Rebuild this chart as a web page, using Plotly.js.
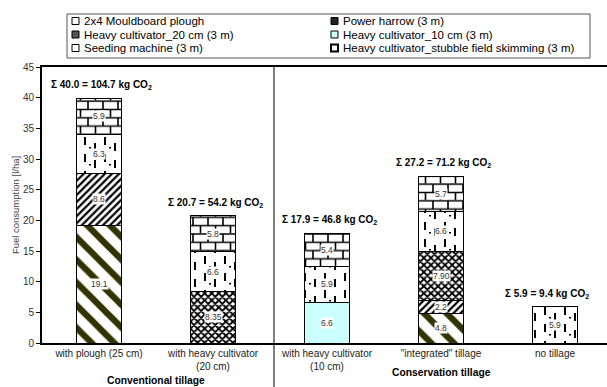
<!DOCTYPE html>
<html>
<head>
<meta charset="utf-8">
<script src="https://cdn.plot.ly/plotly-3.0.1.min.js"></script>
<style>
html,body{margin:0;padding:0;overflow:hidden;background:#fff;}
#chart{width:615px;height:387px;}
</style>
</head>
<body>
<div id="chart"></div>
<script>
// ---- data ----
var categories = ["with plough (25 cm)", "with heavy cultivator<br>(20 cm)", "with heavy cultivator<br>(10 cm)", "\"integrated\" tillage", "no tillage"];
var seriesNames = ["2x4 Mouldboard plough", "Power harrow (3 m)", "Heavy cultivator_20 cm (3 m)", "Heavy cultivator_10 cm (3 m)", "Seeding machine (3 m)", "Heavy cultivator_stubble field skimming (3 m)"];
var plough      = [19.1, null, null, 4.8, null];
var powerHarrow = [8.6, null, null, 2.2, null];
var hc20        = [null, 8.35, null, 7.90, null];
var hc10        = [null, null, 6.6, null, null];
var seeding     = [6.3, 6.6, 5.9, 6.6, 5.9];
var stubble     = [5.9, 5.8, 5.4, 5.7, null];
var hc20Labels  = ["", "8.35", "", "7.90", ""];
var totalFuel   = ["40.0", "20.7", "17.9", "27.2", "5.9"];
var totalCO2    = ["104.7", "54.2", "46.8", "71.2", "9.4"];
var groupLabels = ["Conventional tillage", "Conservation tillage"];

// ---- layout constants ----
var W = 615, H = 387, ML = 42, MR = 3, MT = 67, MB = 44;
var PW = W - ML - MR, PH = H - MT - MB;
function px(x){ return (x - ML) / PW; }
function py(y){ return (H - MB - y) / PH; }
var FONT = "Liberation Sans, Arial, sans-serif";

var allSeries = [plough, powerHarrow, hc20, hc10, seeding, stubble];
var patterns = [
  {shape: "\\", fgcolor: "#333300", bgcolor: "#ffffff", size: 16, solidity: 0.4, fillmode: "replace"},
  {shape: "/", fgcolor: "#000000", bgcolor: "#ffffff", size: 5, solidity: 0.45, fillmode: "replace"},
  {shape: "x", fgcolor: "#000000", bgcolor: "#ffffff", size: 5, solidity: 0.6, fillmode: "replace"},
  null,
  {shape: "|", fgcolor: "#000000", bgcolor: "#ffffff", size: 10, solidity: 0.15, fillmode: "replace"},
  {shape: "+", fgcolor: "#000000", bgcolor: "#ffffff", size: 14, solidity: 0.15, fillmode: "replace"}
];

var traces = allSeries.map(function(vals, i){
  var t = {
    type: "bar", name: seriesNames[i], x: categories, y: vals,
    showlegend: false, hoverinfo: "skip",
    marker: {color: i === 3 ? "#ccffff" : "#ffffff", line: {color: "#000000", width: 1}}
  };
  if (patterns[i]) t.marker.pattern = patterns[i];
  return t;
});

var annotations = [];
// segment value labels
var base = [0, 0, 0, 0, 0];
allSeries.forEach(function(vals, i){
  vals.forEach(function(v, j){
    if (v === null) return;
    var label = (i === 2) ? hc20Labels[j] : v.toFixed(1);
    annotations.push({
      x: categories[j], y: base[j] + v / 2, xref: "x", yref: "y",
      text: label, showarrow: false, bgcolor: "#ffffff", borderpad: 0,
      font: {family: FONT, size: 8.5, color: "#333333"}
    });
    base[j] += v;
  });
});
// totals
categories.forEach(function(c, j){
  annotations.push({
    x: c, y: base[j], xref: "x", yref: "y", yanchor: "middle", yshift: 13,
    xshift: j === 4 ? -8 : 2,
    text: "Σ " + totalFuel[j] + " = " + totalCO2[j] + " kg CO<sub>2</sub>",
    showarrow: false, font: {family: FONT, size: 10, color: "#000000", weight: "bold"}
  });
});
// group labels
annotations.push({x: 0.5, y: py(380), xref: "x", yref: "paper", yanchor: "middle", text: "<b>" + groupLabels[0] + "</b>",
  showarrow: false, font: {family: FONT, size: 10.3, color: "#000"}});
annotations.push({x: 3, y: py(372), xref: "x", yref: "paper", yanchor: "middle", text: "<b>" + groupLabels[1] + "</b>",
  showarrow: false, font: {family: FONT, size: 10.3, color: "#000"}});

// manual legend
var shapes = [];
shapes.push({type: "rect", xref: "paper", yref: "paper", x0: px(67), x1: px(590), y0: py(14), y1: py(58),
  line: {color: "#555555", width: 1}, fillcolor: "#ffffff"});
var legRows = [21, 34.5, 48];
var legCols = [72, 331];
var iconFill = ["#ffffff", "#222222", "#555555", "#ccffff", "#ffffff", "#ffffff"];
var iconLine = [1, 1, 1, 1, 1, 2];
seriesNames.forEach(function(n, i){
  var r = Math.floor(i / 2), c = i % 2;
  var x0 = legCols[c], yc = legRows[r];
  shapes.push({type: "rect", xref: "paper", yref: "paper", x0: px(x0), x1: px(x0 + 7), y0: py(yc - 3.5), y1: py(yc + 3.5),
    line: {color: "#000000", width: iconLine[i]}, fillcolor: iconFill[i]});
  annotations.push({xref: "paper", yref: "paper", x: px(x0 + 10), y: py(yc), xanchor: "left", yanchor: "middle",
    text: n, showarrow: false, font: {family: FONT, size: 11.5, color: "#000"}});
});
// divider between groups
shapes.push({type: "line", xref: "x", yref: "paper", x0: 1.535, x1: 1.535, y0: py(387), y1: 1,
  line: {color: "#000000", width: 1}});

var layout = {
  width: W, height: H,
  margin: {l: ML, r: MR, t: MT, b: MB},
  paper_bgcolor: "#ffffff", plot_bgcolor: "#ffffff",
  barmode: "stack", bargap: 0.605,
  showlegend: false,
  font: {family: FONT},
  xaxis: {
    type: "category", showline: true, linecolor: "#000", linewidth: 2, mirror: true,
    showgrid: false, zeroline: false, ticks: "", automargin: false,
    tickfont: {family: FONT, size: 10, color: "#222"}
  },
  yaxis: {
    range: [0, 45], dtick: 5, showline: true, linecolor: "#000", linewidth: 2, mirror: true,
    showgrid: false, zeroline: false, ticks: "outside", ticklen: 4, tickcolor: "#000", tickwidth: 1,
    automargin: false,
    tickfont: {family: FONT, size: 10, color: "#333"},
    title: {text: "Fuel consumption [l/ha]", standoff: 2, font: {family: FONT, size: 9.5, color: "#444"}}
  },
  annotations: annotations,
  shapes: shapes
};

function customizePatterns(gd){
  try {
    var trs = gd.querySelectorAll(".barlayer .trace");
    trs.forEach(function(tr, i){
      if (i !== 4 && i !== 5) return;
      var done = {};
      tr.querySelectorAll(".point path").forEach(function(p){
        var f = p.style.fill || p.getAttribute("fill") || "";
        var m = f.match(/#([^'")]+)/);
        if (!m || done[m[1]]) return;
        done[m[1]] = true;
        var pat = document.getElementById(m[1]);
        if (!pat) return;
        var rect = pat.querySelector("rect");
        var path = pat.querySelector("path");
        if (!path) return;
        var w, h, d, sw;
        if (i === 5) { w = 15; h = 16.6; sw = 1.6; d = "M0,1H15M0,9.3H15M1,1V9.3M8.5,9.3V17.6"; }
        else { w = 20; h = 17; sw = 2; d = "M3,2V10M13,8V16M8,12V13.5"; }
        pat.setAttribute("width", w); pat.setAttribute("height", h);
        if (rect) { rect.setAttribute("width", w); rect.setAttribute("height", h); }
        path.setAttribute("d", d);
        path.style.strokeWidth = sw + "px";
        path.style.stroke = "#000";
        path.style.opacity = 1;
      });
    });
  } catch (e) {}
}

Plotly.newPlot("chart", traces, layout, {displayModeBar: false, staticPlot: true}).then(function(gd){
  customizePatterns(gd);
});
</script>
</body>
</html>
